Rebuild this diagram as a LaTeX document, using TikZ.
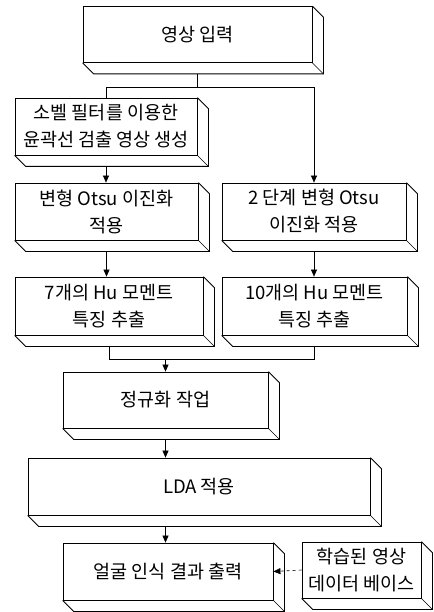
\documentclass[tikz,border=0pt]{standalone}
\usepackage{fontspec}
\setmainfont{Noto Sans CJK KR}
\usetikzlibrary{arrows.meta,calc}

\tikzset{
  blk/.style={draw, line width=0.8pt, align=center, inner sep=0pt,
    font=\fontsize{18.5}{27}\selectfont},
  arr/.style={line width=0.6pt, -{Triangle[length=7pt,width=6pt]}},
  lnk/.style={line width=0.6pt},
}
\newcommand{\dep}{11}

\begin{document}
\begin{tikzpicture}[x=1pt,y=-1pt]
  \useasboundingbox (0,0) rectangle (433,612);

  % front faces
  \node[blk, minimum width=229, minimum height=56] (input) at (197.5,34.5) {영상 입력};
  \node[blk, minimum width=182, minimum height=57] (sobel) at (106,126.5) {소벨 필터를 이용한\\윤곽선 검출 영상 생성};
  \node[blk, minimum width=183, minimum height=57] (otsu) at (106.5,211.5) {변형 Otsu 이진화\\적용};
  \node[blk, minimum width=184, minimum height=57] (otsu2) at (314,211.5) {2 단계 변형 Otsu\\이진화 적용};
  \node[blk, minimum width=188, minimum height=58] (hu7) at (109,306) {7개의 Hu 모멘트\\특징 추출};
  \node[blk, minimum width=185, minimum height=58] (hu10) at (314.5,306) {10개의 Hu 모멘트\\특징 추출};
  \node[blk, minimum width=205, minimum height=56] (norm) at (165.5,400) {정규화 작업};
  \node[blk, minimum width=342, minimum height=57] (lda) at (199,486.5) {LDA 적용};
  \node[blk, minimum width=210, minimum height=57] (result) at (168,571.5) {얼굴 인식 결과 출력};
  \node[blk, minimum width=119, minimum height=56] (db) at (361.5,570) {학습된 영상\\데이터 베이스};

  % depth faces
  \foreach \n in {input,sobel,otsu,otsu2,hu7,hu10,norm,lda,result,db}{
    \draw[line width=0.8pt] (\n.north east) -- ++(\dep,\dep) -- ($(\n.south east)+(\dep,\dep)$)
      -- ($(\n.south west)+(\dep,\dep)$) -- (\n.south west);
    \draw[line width=0.5pt] (\n.south east) -- ++(\dep,\dep);
  }

  % connectors
  \coordinate (split) at ($(input.south)+(0,24)$);
  \coordinate (merge) at ($(norm.north)+(0,-12)$);
  \draw[lnk] ($(input.south)+(0,\dep)$) -- (split) -| (sobel.north);
  \draw[arr] (split) -| (otsu2.north);
  \draw[arr] ($(sobel.south)+(0,\dep)$) -- (sobel.south |- otsu.north);
  \draw[arr] ($(otsu.south)+(0,\dep)$) -- (otsu.south |- hu7.north);
  \draw[arr] ($(otsu2.south)+(0,\dep)$) -- (otsu2.south |- hu10.north);
  \draw[lnk] ($(hu7.south)+(0,\dep)$) -- (hu7.south |- merge) -- (hu10.south |- merge)
    -- ($(hu10.south)+(0,\dep)$);
  \draw[arr] (merge) -- (norm.north);
  \draw[arr] ($(norm.south)+(0,\dep)$) -- (norm.south |- lda.north);
  \draw[arr] ($(lda.south -| norm.south)+(0,\dep)$) -- (norm.south |- result.north);
  \draw[arr, dashed] (db.west) -- (result.east);

\end{tikzpicture}
\end{document}
